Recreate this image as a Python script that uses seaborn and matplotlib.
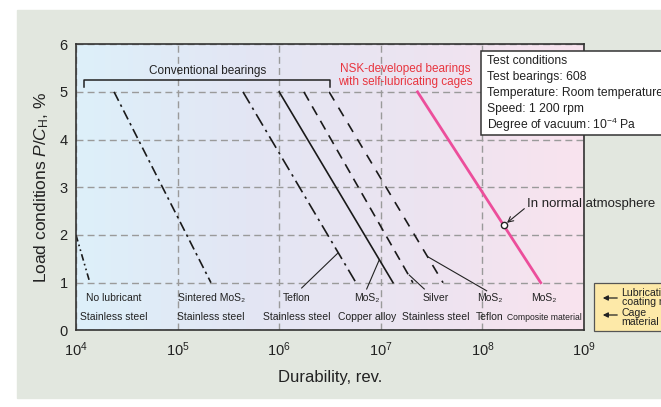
import numpy as np
import pandas as pd
import matplotlib
matplotlib.use("Agg")
import matplotlib.pyplot as plt
import seaborn as sns
from matplotlib import font_manager
from matplotlib.colors import LinearSegmentedColormap
from matplotlib.patches import Rectangle

# data
series = ["No lubricant", "Sintered MoS2", "Teflon", "MoS2 copper", "Silver", "MoS2 Teflon"]
durability_start = [1.0e4, 2.37e4, 4.4e5, 1.0e6, 1.75e6, 3.1e6]
load_start = [2, 5, 5, 5, 5, 5]
durability_end = [1.37e4, 2.13e5, 5.7e6, 1.32e7, 2.07e7, 4.1e7]
load_end = [1, 1, 1, 1, 1, 1]
nsk_durability = [2.3e7, 3.75e8]
nsk_load = [5, 1]
atm_load = 2.2

lub_labels = ["No lubricant", "Sintered MoS\u2082", "Teflon", "MoS\u2082", "Silver", "MoS\u2082", "MoS\u2082"]
cage_labels = ["Stainless steel", "Stainless steel", "Stainless steel", "Copper alloy",
               "Stainless steel", "Teflon", "Composite material"]
conditions = ["Test conditions", "Test bearings: 608", "Temperature: Room temperature",
              "Speed: 1 200 rpm", "Degree of vacuum: 10$^{-4}$ Pa"]

# layout
label_logx = [4.374, 5.33, 6.175, 6.864, 7.543, 8.075, 8.606]
dash_map = {
    "No lubricant": (4, 2, 1, 2, 1, 2),
    "Sintered MoS2": (6, 2.5, 1.5, 2.5),
    "Teflon": (8, 3, 1.5, 3),
    "MoS2 copper": "",
    "Silver": (6, 4),
    "MoS2 Teflon": (6, 5),
}

names = {f.name for f in font_manager.fontManager.ttflist}
narrow = "Liberation Sans Narrow" if "Liberation Sans Narrow" in names else "Liberation Sans"
small = 1.0 if narrow == "Liberation Sans Narrow" else 0.9

plt.rcParams["font.family"] = ["Liberation Sans", "DejaVu Sans"]
plt.rcParams["mathtext.fontset"] = "custom"
plt.rcParams["mathtext.rm"] = "Liberation Sans"
plt.rcParams["mathtext.it"] = "Liberation Sans:italic"
plt.rcParams["mathtext.bf"] = "Liberation Sans:bold"

W, H = 661, 407
fig = plt.figure(figsize=(W / 100, H / 100), dpi=100)
fig.patch.set_facecolor("white")


def fx(px):
    return px / W


def fy(py):
    return 1 - py / H


fig.add_artist(Rectangle((fx(17), fy(398)), fx(661 - 17), (398 - 10) / H,
                         transform=fig.transFigure, color="#e2e7df", zorder=-3))

pos = [fx(76), fy(330.4), (584 - 76) / W, (330.4 - 44.2) / H]
bg = fig.add_axes(pos, zorder=-1)
grad = np.linspace(0, 1, 256).reshape(1, -1)
cmap = LinearSegmentedColormap.from_list("bg", ["#ddf0fa", "#e3e6f4", "#ece4f1", "#f9e3ee"])
bg.imshow(grad, aspect="auto", extent=[0, 1, 0, 1], cmap=cmap)
bg.axis("off")

ax = fig.add_axes(pos, zorder=0)
ax.set_facecolor("none")

rows = []
for name, x0, x1, y0, y1 in zip(series, durability_start, durability_end, load_start, load_end):
    rows.append({"series": name, "durability": x0, "load": y0})
    rows.append({"series": name, "durability": x1, "load": y1})
df = pd.DataFrame(rows)

sns.lineplot(data=df, x="durability", y="load", hue="series", style="series",
             palette={n: "#1a1a1a" for n in series}, dashes=dash_map,
             linewidth=1.2, legend=False, estimator=None, sort=False, ax=ax)
sns.lineplot(x=nsk_durability, y=nsk_load, color="#ec4e9b", linewidth=2,
             estimator=None, sort=False, ax=ax)

ax.set_xscale("log")
ax.set_xlim(1e4, 1e9)
ax.set_ylim(0, 6)
ax.set_xticks([1e4, 1e5, 1e6, 1e7, 1e8, 1e9])
ax.xaxis.set_minor_locator(matplotlib.ticker.NullLocator())
ax.set_yticks(range(7))
ax.tick_params(length=0, labelsize=10.5, colors="#222")
ax.tick_params(axis="y", pad=6)
ax.tick_params(axis="x", pad=7)
ax.set_axisbelow(True)
ax.grid(True, color="#9a9a9a", linestyle=(0, (5, 3)), linewidth=1)
for side in ["left", "bottom", "top", "right"]:
    ax.spines[side].set_color("#333")
    ax.spines[side].set_linewidth(1.2)

ax.set_xlabel("Durability, rev.", fontsize=12, color="#222")
ax.set_ylabel("Load conditions $P$/$C_\\mathrm{H}$, %", fontsize=12.5, color="#222")
ax.xaxis.set_label_coords(0.5, -0.14)
ax.yaxis.set_label_coords(-0.05, 0.5)

# bracket for conventional bearings
bx0, bx1, by, bt = 10 ** 4.082, 10 ** 6.5, 5.25, 5.11
ax.plot([bx0, bx0, bx1, bx1], [bt, by, by, bt], color="#222", lw=1.1)
ax.text(10 ** 5.3, 5.44, "Conventional bearings", ha="center", va="center", fontsize=8.5, color="#222")
ax.text(10 ** 7.24, 5.35, "NSK-developed bearings\nwith self-lubricating cages", ha="center",
        va="center", fontsize=8.5, color="#e8353f", linespacing=1.12)

# in normal atmosphere marker
lx = np.interp(atm_load, nsk_load[::-1], np.log10(nsk_durability)[::-1])
ax.plot(10 ** lx, atm_load, "o", ms=4.5, mfc="white", mec="#222", mew=1, zorder=5)
ax.annotate("In normal atmosphere", xy=(10 ** lx, atm_load), xytext=(10 ** 8.44, 2.65),
            ha="left", va="center", fontsize=9.5, color="#222", annotation_clip=False,
            arrowprops=dict(arrowstyle="->", color="#222", lw=0.8, shrinkA=0, shrinkB=3,
                            relpos=(0, 0.3)))

# material labels
for lx_, lub, cage in zip(label_logx, lub_labels, cage_labels):
    ax.text(10 ** lx_, 0.68, lub, ha="center", va="center", fontsize=8.3 * small,
            family=[narrow, "DejaVu Sans"], color="#222")
    ax.text(10 ** lx_, 0.28, cage, ha="center", va="center",
            fontsize=(6.9 if cage == "Composite material" else 8.3) * small,
            family=[narrow, "DejaVu Sans"], color="#222")

# leader lines
leaders = [((6.221, 0.889), (6.582, 1.63)), ((6.861, 0.868), (6.985, 1.48)),
           ((7.428, 0.868), (7.28, 1.16)), ((8.042, 0.83), (7.462, 1.545))]
for (ax0, ay0), (ax1, ay1) in leaders:
    ax.plot([10 ** ax0, 10 ** ax1], [ay0, ay1], color="#222", lw=0.8)

# test conditions box
fig.add_artist(Rectangle((fx(481), fy(135)), fx(300), (135 - 51) / H, transform=fig.transFigure,
                         facecolor="white", edgecolor="#333", lw=1.1, zorder=5))
for i, line in enumerate(conditions):
    fig.text(fx(487), fy(61 + 16 * i), line, ha="left", va="center", fontsize=8.7,
             color="#222", zorder=6)

# material key box
fig.add_artist(Rectangle((fx(593.5), fy(330.7)), fx(120), (330.7 - 283) / H, transform=fig.transFigure,
                         facecolor="#fde9a8", edgecolor="#555", lw=0.9, zorder=5))
for ay in [298, 315]:
    fig.add_artist(matplotlib.patches.FancyArrowPatch((fx(620), fy(ay)), (fx(600), fy(ay)),
                                                      transform=fig.transFigure,
                                                      arrowstyle="-|>,head_length=3,head_width=1.5",
                                                      color="#222", lw=0.9, zorder=6))
for ty, t in zip([292.7, 302, 313.3, 322.3], ["Lubricating", "coating material", "Cage", "material"]):
    fig.text(fx(621.5), fy(ty), t, ha="left", va="center", fontsize=7.6, color="#222", zorder=6)

fig.savefig("out.png", dpi=100)
